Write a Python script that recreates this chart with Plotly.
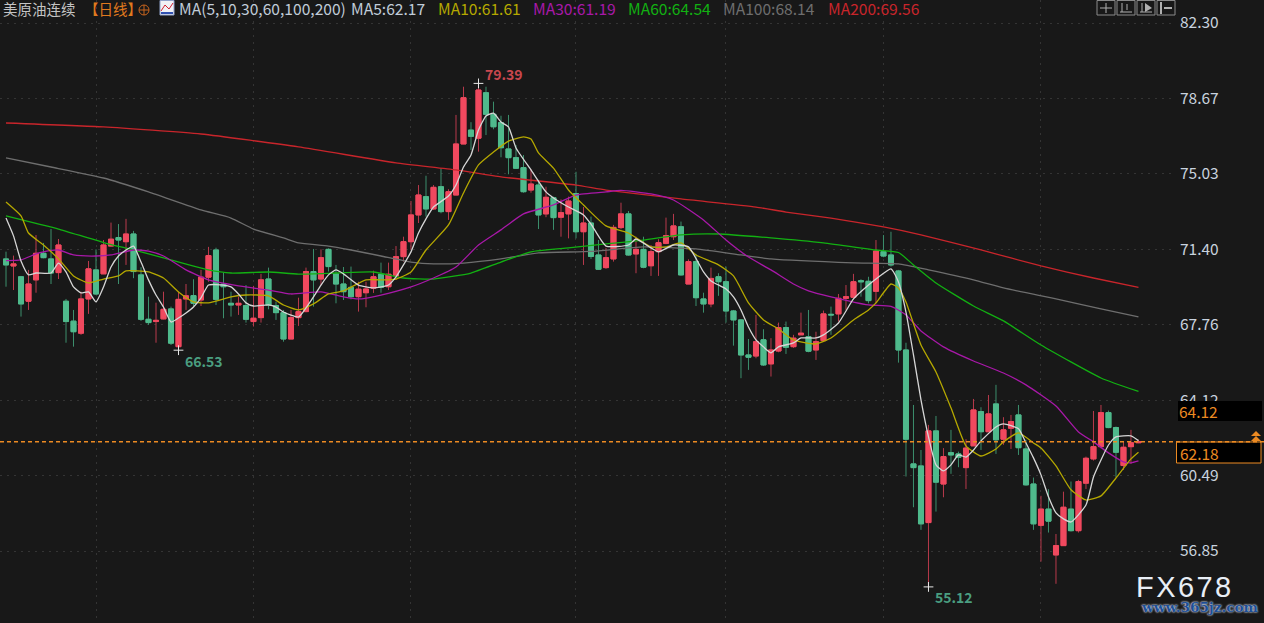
import plotly.graph_objects as go

OPEN = [70.93,70.59,70.07,68.89,69.92,71.20,70.93,70.27,68.89,67.93,
67.35,69.00,70.40,70.21,71.55,71.96,71.76,72.13,70.16,68.02,
67.91,68.04,68.52,66.70,69.00,69.16,68.95,70.05,71.36,69.71,
68.79,68.71,68.68,67.91,68.10,69.96,68.68,68.34,67.07,68.10,
68.39,70.32,69.96,71.39,70.21,69.72,69.56,69.11,69.30,69.52,
70.19,69.59,70.11,71.04,71.76,73.05,73.93,73.34,74.41,73.21,
74.01,76.47,77.14,76.75,78.94,77.90,77.50,76.23,75.81,75.33,
74.25,74.49,73.10,73.88,72.94,73.10,74.08,72.24,72.66,71.12,
70.51,70.93,72.44,73.10,71.17,71.39,70.60,71.28,71.68,72.00,
72.48,69.72,70.80,69.00,68.76,70.07,69.83,68.42,67.99,66.30,
66.25,67.03,65.87,66.49,67.62,66.70,67.27,67.18,66.54,66.99,
68.26,68.28,69.03,69.08,69.88,69.85,69.37,71.28,71.12,70.35,
66.54,61.05,60.95,58.22,62.64,60.08,61.59,61.53,60.87,61.92,
63.57,62.60,63.94,62.24,62.77,63.41,61.77,60.08,58.09,58.87,
56.66,57.11,58.87,57.83,60.12,61.29,61.88,63.52,62.80,60.97,
61.88,62.07]

CLOSE = [70.64,70.69,68.76,69.72,71.20,70.99,70.25,71.60,67.91,67.42,
69.00,70.45,69.24,71.60,71.88,71.84,72.13,70.32,68.02,67.86,
67.97,68.50,66.87,68.98,69.15,68.79,70.05,71.09,68.98,69.59,
68.71,68.79,68.02,68.07,69.92,68.71,68.34,67.07,68.10,68.39,
70.32,69.92,70.99,70.56,69.72,69.35,69.11,69.47,69.48,70.07,
69.56,70.19,71.04,71.76,73.05,74.01,73.34,74.38,73.21,74.17,
76.47,78.70,76.84,79.07,77.90,77.30,76.29,75.81,75.30,74.17,
74.54,73.05,73.90,72.92,73.16,73.72,72.24,72.66,71.05,70.43,
70.99,72.45,73.10,71.12,71.39,70.53,71.28,71.71,72.05,72.52,
70.16,70.80,69.06,68.76,69.99,69.83,68.42,67.99,66.30,66.19,
66.94,65.82,66.54,67.62,66.67,67.11,67.35,66.48,66.94,68.28,
68.23,69.03,69.11,69.83,69.83,68.92,71.31,71.07,70.64,66.54,
62.24,60.87,58.16,62.64,60.17,61.40,61.48,61.37,61.81,63.65,
62.60,63.46,62.21,62.69,63.09,61.83,60.04,58.16,58.87,58.29,
57.11,58.96,57.83,60.20,61.32,61.88,63.52,62.80,61.61,61.85,
62.07,62.12]

HIGH = [71.28,71.09,70.11,70.40,72.08,71.70,72.37,71.89,69.00,68.47,
69.35,70.83,71.39,71.84,72.68,72.61,72.86,72.28,70.53,69.11,
68.82,69.35,68.63,69.35,69.72,69.95,70.40,71.51,71.47,70.27,
69.35,69.11,69.67,69.63,70.21,70.51,68.87,68.47,68.47,69.06,
70.51,71.41,71.39,71.44,70.64,70.54,70.56,69.83,69.83,70.36,
70.75,70.75,71.55,72.00,73.72,74.49,74.94,74.49,75.30,74.29,
77.87,79.23,77.52,79.39,79.23,78.51,77.83,77.87,76.42,75.94,
75.25,74.74,74.41,73.93,73.80,73.93,75.13,73.43,72.97,71.84,
71.46,72.57,73.64,73.24,72.00,72.00,71.60,71.88,72.92,73.10,
72.73,70.91,71.17,69.30,70.51,70.24,70.56,68.47,68.02,67.07,
68.23,67.54,67.11,67.86,67.91,67.27,68.34,68.47,67.42,68.44,
68.63,69.24,69.67,70.21,69.95,70.07,71.84,72.08,72.24,70.40,
66.89,63.89,61.72,62.93,63.36,61.81,62.69,61.64,62.24,64.18,
63.78,64.37,64.86,63.30,63.41,63.89,62.21,60.39,59.51,59.83,
57.67,59.71,60.20,60.28,61.40,63.60,63.89,63.62,62.85,62.12,
62.69,62.21]

LOW = [69.59,69.43,68.15,68.47,69.30,70.96,69.72,69.96,66.89,66.70,
67.27,68.28,69.19,70.21,71.52,69.72,70.64,70.00,67.94,67.75,
66.89,68.02,66.78,66.53,68.47,68.63,68.66,69.83,68.71,68.07,
68.15,68.23,67.86,67.67,67.86,68.50,67.99,66.94,67.07,67.70,
68.36,68.63,69.67,70.32,68.79,68.95,68.98,68.39,68.60,69.29,
69.30,69.43,69.92,70.80,71.36,72.66,72.97,73.29,73.13,72.81,
74.01,76.47,76.18,76.10,76.90,77.18,75.83,75.01,75.27,74.12,
74.12,72.37,72.94,72.33,72.00,71.92,71.92,70.64,70.93,70.40,
70.45,70.80,72.36,71.09,70.24,70.48,70.11,70.11,71.64,71.84,
70.12,69.72,68.66,68.34,68.60,69.15,67.86,66.75,65.18,65.58,
66.14,65.77,65.26,66.43,66.35,66.64,67.27,66.43,66.06,66.94,
67.27,67.91,68.47,69.03,69.11,68.79,68.79,71.01,70.56,65.93,
60.44,58.96,57.87,55.12,58.75,59.44,60.57,60.89,59.84,61.92,
61.72,62.60,61.53,61.97,61.77,61.48,60.00,57.87,56.34,57.74,
55.27,57.11,57.79,57.74,59.84,61.21,61.80,62.77,60.41,60.76,
61.05,62.05]

MA5_X = [0,1,2,3,4,6,7,8,9,10,11,12,13,14,15,16,17,18,19,20,21,22,23,24,25,26,27,29,30,31,32,33,35,36,37,39,40,41,42,43,44,45,47,49,51,52,53,54,55,56,57,59,60,61,62,63,64,65,66,67,68,70,72,73,75,77,78,80,83,84,86,87,89,91,93,94,96,97,98,99,100,101,102,103,105,106,108,109,111,113,115,116,118,119,120,121,122,123,124,125,126,127,128,129,130,132,133,135,136,137,138,139,140,141,142,144,145,146,147,148,150,151]
MA5 = [72.90,72.04,70.83,70.16,70.25,70.25,70.73,70.30,69.58,69.29,69.34,68.86,69.58,70.54,71.07,71.36,71.55,70.78,69.92,69.19,68.61,67.89,68.08,68.32,68.61,69.05,69.67,69.67,69.58,69.24,68.81,68.66,68.71,68.61,68.37,68.13,68.57,69.10,69.67,70.16,70.40,70.21,69.67,69.53,69.67,70.06,70.64,71.27,72.18,72.86,73.43,73.96,74.49,75.36,75.94,77.14,77.82,77.96,77.53,77.29,76.28,75.22,74.16,73.87,73.43,73.05,72.61,71.55,71.60,71.89,71.46,71.27,71.60,71.51,70.30,69.87,69.48,69.10,68.47,67.65,67.03,66.69,66.40,66.69,66.88,67.12,67.12,67.27,67.84,69.00,69.67,69.96,70.45,69.82,68.37,66.30,64.13,62.35,61.00,60.71,61.00,61.48,61.38,61.72,62.16,62.83,62.98,62.74,62.06,61.34,60.52,59.46,58.69,58.40,58.25,59.07,60.42,61.24,61.96,62.35,62.40,62.17]

MA10_X = [0,2,3,5,7,9,11,13,15,16,19,21,23,25,27,30,32,35,37,39,41,43,45,48,50,52,54,56,59,61,63,65,67,69,70,71,73,75,77,80,83,86,88,90,92,95,97,99,101,103,105,108,110,113,115,116,118,119,120,122,124,126,128,130,132,133,135,137,138,140,142,144,146,148,150,151]
MA10 = [73.67,73.00,72.18,71.60,70.93,70.11,69.77,69.96,70.11,70.35,70.30,70.01,69.34,68.86,68.81,69.10,69.19,69.15,68.71,68.47,68.76,69.24,69.39,69.92,69.92,69.96,70.30,71.36,72.57,74.11,75.46,76.08,76.61,76.81,76.71,76.04,75.31,74.25,73.53,72.52,72.18,71.51,71.51,71.70,71.12,70.64,70.11,68.81,67.99,67.55,67.03,66.83,67.12,67.99,68.47,68.81,69.72,69.53,68.85,66.78,65.48,63.75,61.92,61.43,61.77,62.11,62.54,62.06,61.82,60.95,59.80,59.31,59.51,60.37,61.29,61.61]

MA30_X = [0,2,4,5,7,9,12,14,17,19,21,24,27,31,35,38,42,45,47,50,54,57,60,63,66,69,73,76,80,82,86,89,93,96,99,102,105,107,110,115,118,120,122,125,129,133,136,140,143,145,147,149,150,151]
MA30 = [70.85,70.88,71.17,71.27,71.36,71.12,71.07,71.12,71.36,71.31,71.07,70.40,69.92,69.63,69.43,69.24,69.34,69.10,69.00,69.19,69.58,70.01,70.54,71.60,72.33,73.10,73.53,74.01,74.16,74.23,74.06,73.77,72.81,71.84,71.02,70.40,69.72,69.39,69.10,68.71,68.64,68.23,67.46,66.69,66.01,65.43,64.86,63.84,62.59,62.11,61.58,61.15,61.10,61.19]

MA60_X = [0,4,7,13,17,21,27,30,35,39,44,49,53,57,62,66,70,75,80,85,90,95,102,109,116,119,121,124,129,133,138,146,151]
MA60 = [73.00,72.64,72.37,71.72,71.36,70.98,70.40,70.25,70.30,70.20,70.25,70.30,70.01,69.96,70.25,70.78,71.27,71.46,71.65,71.84,72.09,72.13,71.94,71.70,71.36,71.24,70.64,69.77,68.66,67.94,66.78,65.19,64.54]

MA100_X = [0,6,13,19,26,30,33,37,39,43,46,50,54,57,61,66,71,78,85,92,98,102,113,119,123,129,133,140,146,151]
MA100 = [75.80,75.36,74.83,74.16,73.29,72.90,72.37,71.94,71.70,71.55,71.36,71.07,70.78,70.69,70.73,70.93,71.22,71.29,71.51,71.41,71.12,70.93,70.74,70.69,70.40,69.92,69.53,69.00,68.52,68.14]

MA200_X = [0,13,26,39,52,60,66,76,80,90,100,104,110,117,122,130,138,145,151]
MA200 = [77.48,77.29,76.95,76.33,75.56,75.22,74.88,74.49,74.25,73.82,73.43,73.19,72.90,72.47,72.09,71.36,70.59,70.01,69.56]

Y_TICKS = [82.30,78.67,75.03,71.40,67.76,64.12,60.49,56.85]
Y_TICK_LABELS = ["82.30","78.67","75.03","71.40","67.76","64.12","60.49","56.85"]
MONTH_STARTS = [12,33,54,76,96,117,138]

BG = "#181818"
UP, UP_WICK = "#f0495f", "#b93a4c"
DOWN, DOWN_WICK = "#4fba8c", "#3c8f6d"
ORANGE = "#ec8a22"
MA_STYLE = [("MA200", MA200_X, MA200, "#c8252b"), ("MA100", MA100_X, MA100, "#6e6e6e"),
            ("MA60", MA60_X, MA60, "#12b012"), ("MA30", MA30_X, MA30, "#a818a8"),
            ("MA10", MA10_X, MA10, "#b5a800"), ("MA5", MA5_X, MA5, "#d6d6d6")]

W, H = 1264, 623
PLOT_R = 1175
XS = list(range(len(OPEN)))
px_x = lambda p: p / W
px_y = lambda p: 1 - p / H

fig = go.Figure()
fig.add_trace(go.Candlestick(x=XS, open=OPEN, high=HIGH, low=LOW, close=CLOSE, whiskerwidth=0, hoverinfo="skip",
    increasing=dict(line=dict(color=UP_WICK, width=1), fillcolor=UP_WICK),
    decreasing=dict(line=dict(color=DOWN_WICK, width=1), fillcolor=DOWN_WICK), showlegend=False))
fig.add_trace(go.Candlestick(x=XS, open=OPEN, close=CLOSE,
    high=[max(a, b) for a, b in zip(OPEN, CLOSE)], low=[min(a, b) for a, b in zip(OPEN, CLOSE)],
    whiskerwidth=0, increasing=dict(line=dict(color=UP, width=1), fillcolor=UP),
    decreasing=dict(line=dict(color=DOWN, width=1), fillcolor=DOWN), showlegend=False))
for name, xs, ys, color in MA_STYLE:
    fig.add_trace(go.Scatter(x=xs, y=ys, mode="lines", name=name, showlegend=False,
                             line=dict(color=color, width=1.3, shape="spline", smoothing=0.5)))

i_hi = HIGH.index(max(HIGH))
i_lo = LOW.index(min(LOW))
i_lo2 = LOW.index(min(LOW[:60]))
fig.add_trace(go.Scatter(x=[i_hi, i_lo2, i_lo], y=[HIGH[i_hi], LOW[i_lo2], LOW[i_lo]], mode="markers", showlegend=False,
                         marker=dict(symbol="cross-thin", size=7, line=dict(color="#e8e8e8", width=1))))

SANS = "Noto Sans CJK SC, Noto Sans, sans-serif"
ann = []
def label(x, y, text, color, size=14.5, family=SANS, **kw):
    ann.append(dict(x=px_x(x), y=px_y(y), xref="paper", yref="paper", text=text, showarrow=False,
                    xanchor="left", yanchor="middle", borderpad=0,
                    font=dict(family=family, size=size, color=color), **kw))

label(2, 8, "美原油连续", "#c4c4c4", 14.5)
label(83, 8, "【日线】", "#e07a1e", 14.5)
label(178, 8, "MA(5,10,30,60,100,200)", "#c0ccd8", 15.6)
label(350, 8, "MA5:62.17", "#c0ccd8", 15.6)
label(437, 8, "MA10:61.61", "#b5a800", 15.6)
label(532, 8, "MA30:61.19", "#a818a8", 15.6)
label(627, 8, "MA60:64.54", "#12b012", 15.6)
label(722, 8, "MA100:68.14", "#6e6e6e", 15.6)
label(827, 8, "MA200:69.56", "#c8252b", 15.6)

for (i, y, txt, col, dx, dy) in [(i_hi, HIGH[i_hi], "79.39", "#c8474e", 6, 9),
                                 (i_lo2, LOW[i_lo2], "66.53", "#4a9e80", 5, -11),
                                 (i_lo, LOW[i_lo], "55.12", "#4a9e80", 6, -10)]:
    ann.append(dict(x=i, y=y, xref="x", yref="y", text="<b>%s</b>" % txt, showarrow=False, xanchor="left",
                    yanchor="middle", xshift=dx, yshift=dy, borderpad=0,
                    font=dict(family=SANS, size=14, color=col)))

label(1178, 411, "64.12", ORANGE, 15.5)
label(1179, 453, "62.18", ORANGE, 15.5)
label(1135, 587, "F\u200aX\u200a6\u200a7\u200a8", "#e8eef5", 29, "Liberation Sans")
label(1140, 607, "<b>www.365jz.com</b>", "#1d4f96", 13.6, "DejaVu Serif")
ann[-1]["font"]["shadow"] = "0 0 2px #d8e2f0, 0 0 2px #d8e2f0"

shapes = []
def rect(x0, y0, x1, y1, line=None, fill=None, lw=1):
    shapes.append(dict(type="rect", xref="paper", yref="paper", x0=px_x(x0), x1=px_x(x1), y0=px_y(y0), y1=px_y(y1),
                       line=dict(color=line or "rgba(0,0,0,0)", width=lw if line else 0), fillcolor=fill or "rgba(0,0,0,0)"))
def seg(x0, y0, x1, y1, color, lw=1):
    shapes.append(dict(type="line", xref="paper", yref="paper", x0=px_x(x0), x1=px_x(x1), y0=px_y(y0), y1=px_y(y1),
                       line=dict(color=color, width=lw)))

rect(1178, 401, 1262, 421, fill="#000000")
rect(1176.5, 442, 1261, 463, line=ORANGE, fill="#000000")
for top in (431, 436):
    shapes.append(dict(type="path", xref="paper", yref="paper", fillcolor=ORANGE, line=dict(width=0),
                       path="M %f %f L %f %f L %f %f Z" % (px_x(1251), px_y(top + 5), px_x(1256), px_y(top), px_x(1261), px_y(top + 5))))
shapes.append(dict(type="line", xref="paper", yref="y", x0=0, x1=px_x(W), y0=CLOSE[-1], y1=CLOSE[-1],
                   line=dict(color=ORANGE, width=1.5, dash="4px,3px")))

# trading-software toolbar and small indicator icon
for x0 in (1097, 1117, 1137, 1157):
    rect(x0, 0.5, x0 + 18, 15, line="#8a8a8a")
seg(1106, 3, 1106, 13, "#b0b0b0"); seg(1100, 8, 1112, 8, "#b0b0b0")
seg(1120, 12, 1132, 12, "#b0b0b0"); seg(1122, 3, 1122, 12, "#b0b0b0"); seg(1127, 4, 1127, 10, "#b0b0b0")
seg(1140, 12, 1152, 12, "#b0b0b0"); seg(1142, 3, 1142, 12, "#b0b0b0")
shapes.append(dict(type="path", xref="paper", yref="paper", fillcolor="#b0b0b0", line=dict(width=0),
                   path="M %f %f L %f %f L %f %f Z" % (px_x(1145), px_y(3), px_x(1152), px_y(8), px_x(1145), px_y(12))))
seg(1161, 2, 1161, 14, "#b0b0b0", 2); seg(1164, 8, 1172, 8, "#b0b0b0", 2)
rect(160, 0.5, 174, 15, line="#8fa0c8", fill="#f0f0f5")
seg(161, 11, 165, 5, "#d02030"); seg(165, 5, 169, 9, "#d02030"); seg(169, 9, 173, 3, "#d02030")
seg(161, 13, 173, 13, "#3050b0", 2)
shapes.append(dict(type="circle", xref="paper", yref="paper", x0=px_x(139), x1=px_x(149), y0=px_y(15), y1=px_y(5),
                   line=dict(color="#c8651e", width=1)))
seg(139, 10, 149, 10, "#c8651e"); seg(144, 5, 144, 15, "#c8651e")

fig.update_layout(
    width=W, height=H, margin=dict(l=0, r=0, t=0, b=0), paper_bgcolor=BG, plot_bgcolor=BG,
    boxmode="overlay", boxgap=0.33, boxgroupgap=0, showlegend=False, annotations=ann, shapes=shapes,
    xaxis=dict(domain=[0, PLOT_R / W], range=[-0.8, 155.87], tickvals=MONTH_STARTS, showticklabels=False, ticks="",
               showgrid=True, griddash="2px,5px", gridcolor="#343434", gridwidth=1, zeroline=False,
               rangeslider=dict(visible=False), fixedrange=True),
    yaxis=dict(side="right", range=[53.38, 83.41], tickvals=Y_TICKS, ticktext=Y_TICK_LABELS, ticks="",
               showgrid=True, griddash="2px,5px", gridcolor="#343434", gridwidth=1, zeroline=False,
               tickfont=dict(family=SANS, size=15.5, color="#c8d2de"), ticklabelstandoff=4, fixedrange=True),
)
fig.write_html("out.html", config=dict(displayModeBar=False),
               post_script="document.body.style.margin='0';document.body.style.background='%s';document.body.style.overflow='hidden';" % BG)
